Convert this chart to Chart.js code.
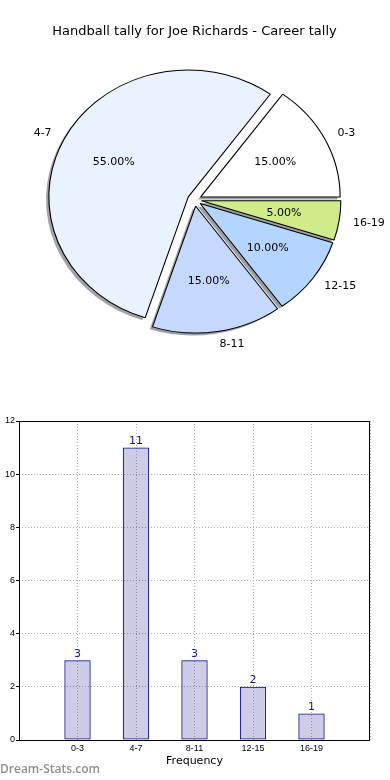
<!DOCTYPE html>
<html>
<head>
<meta charset="utf-8">
<script src="https://cdn.jsdelivr.net/npm/chart.js@4.4.0/dist/chart.umd.min.js"></script>
<style>
    body { margin: 0; width: 390px; height: 780px; overflow: hidden; position: relative; background: #fff; font-family: 'DejaVu Sans', sans-serif; }
    #pieBox { position: absolute; left: 0; top: 0; width: 390px; height: 370px; }
    #barBox { position: absolute; left: -11px; top: 380px; width: 401px; height: 400px; }
    .watermark { position: absolute; left: 0; top: 762px; font-family: 'Open Sans', sans-serif; font-weight: 600; font-size: 12px; line-height: 14px; color: #8f8f8f; }
</style>
</head>
<body>
<div id="pieBox"><canvas id="pieChart"></canvas></div>
<div id="barBox"><canvas id="barChart"></canvas></div>
<div class="watermark">Dream-Stats.com</div>
<script>
const categories = ["0-3", "4-7", "8-11", "12-15", "16-19"];
const counts = [3, 11, 3, 2, 1];
const yTicks = [0, 2, 4, 6, 8, 10, 12];

const sliceColors = ["#ffffff", "#eaf1ff", "#c5d9ff", "#b3d5ff", "#d0eb8a"];

Chart.defaults.font.family = "'DejaVu Sans', sans-serif";
Chart.defaults.color = "#000";

// matplotlib draws counter clockwise from 3 o'clock, chart.js goes clockwise
const pieLabels = categories.slice().reverse();
const pieValues = counts.slice().reverse();
const pieColors = sliceColors.slice().reverse();
const total = counts.reduce((a, b) => a + b, 0);

const ratioX = 1.098;   // axes not square -> pie is an ellipse
const explode = 6.35;   // px along the middle angle

function wedgeCenter(el) {
    const mid = (el.startAngle + el.endAngle) / 2;
    return { mid: mid, x: el.x + Math.cos(mid) * explode * ratioX, y: el.y + Math.sin(mid) * explode };
}

function shadowOf(hex) {
    const n = parseInt(hex.slice(1), 16);
    const r = (n >> 16) & 255, g = (n >> 8) & 255, b = n & 255;
    return `rgba(${Math.round(r * 0.3)}, ${Math.round(g * 0.3)}, ${Math.round(b * 0.3)}, 0.5)`;
}

const ellipsePie = {
    id: "ellipsePie",
    beforeDatasetsDraw(chart) {
        const ctx = chart.ctx;
        const arcs = chart.getDatasetMeta(0).data;
        // all shadows first so they stay under every slice
        arcs.forEach(el => {
            const c = wedgeCenter(el);
            ctx.save();
            ctx.translate(c.x - 2.8, c.y + 2.5);
            ctx.scale(ratioX, 1);
            ctx.beginPath();
            ctx.moveTo(0, 0);
            ctx.arc(0, 0, el.outerRadius, el.startAngle, el.endAngle);
            ctx.closePath();
            ctx.fillStyle = shadowOf(el.options.backgroundColor);
            ctx.fill();
            ctx.restore();
        });
        arcs.forEach(el => {
            const c = wedgeCenter(el);
            ctx.save();
            ctx.translate(c.x, c.y);
            ctx.scale(ratioX, 1);
            ctx.translate(-el.x, -el.y);
            el.draw(ctx);
            ctx.restore();
        });
        return false;
    },
    afterDraw(chart) {
        const ctx = chart.ctx;
        const arcs = chart.getDatasetMeta(0).data;
        ctx.save();
        ctx.font = "11px 'DejaVu Sans'";
        ctx.fillStyle = "#000";
        ctx.textBaseline = "middle";
        arcs.forEach((el, i) => {
            const c = wedgeCenter(el);
            const r = el.outerRadius;
            const cos = Math.cos(c.mid), sin = Math.sin(c.mid);
            ctx.textAlign = cos > 0 ? "left" : "right";
            ctx.fillText(pieLabels[i], c.x + cos * r * 1.1 * ratioX, c.y + sin * r * 1.1);
            ctx.textAlign = "center";
            const pct = (pieValues[i] / total * 100).toFixed(2) + "%";
            ctx.fillText(pct, c.x + cos * r * 0.6 * ratioX, c.y + sin * r * 0.6);
        });
        ctx.restore();
    }
};

new Chart(document.getElementById("pieChart"), {
    type: "pie",
    data: {
        labels: pieLabels,
        datasets: [{
            data: pieValues,
            backgroundColor: pieColors,
            borderColor: "#000",
            borderWidth: 1
        }]
    },
    options: {
        responsive: true,
        maintainAspectRatio: false,
        animation: false,
        rotation: 90,
        radius: 127,
        layout: { padding: { left: 0, right: 1, top: 0, bottom: 20 } },
        plugins: {
            legend: { display: false },
            tooltip: { enabled: false },
            title: {
                display: true,
                text: "Handball tally for Joe Richards - Career tally",
                font: { size: 13, weight: "normal" },
                color: "#000",
                padding: { top: 24, bottom: 10 }
            }
        }
    },
    plugins: [ellipsePie]
});

const boxBorder = {
    id: "boxBorder",
    afterDraw(chart) {
        const { ctx, chartArea: a } = chart;
        ctx.save();
        ctx.strokeStyle = "#000";
        ctx.lineWidth = 1;
        ctx.strokeRect(Math.round(a.left) + 0.5, Math.round(a.top) + 0.5, Math.round(a.right - a.left) - 1, Math.round(a.bottom - a.top));
        ctx.restore();
    }
};

const barValues = {
    id: "barValues",
    afterDatasetsDraw(chart) {
        const ctx = chart.ctx;
        ctx.save();
        ctx.font = "11px 'DejaVu Sans'";
        ctx.fillStyle = "#16168c";
        ctx.textAlign = "center";
        ctx.textBaseline = "bottom";
        chart.getDatasetMeta(0).data.forEach((el, i) => {
            ctx.fillText(String(counts[i]), el.x, el.y - 1);
        });
        ctx.restore();
    }
};

const gridStyle = { color: "#b0b0b0", lineWidth: 1 };
const tickFont = { family: "'Liberation Sans Narrow', 'Liberation Sans'", size: 9 };

new Chart(document.getElementById("barChart"), {
    type: "bar",
    data: {
        datasets: [{
            data: counts.map((v, i) => ({ x: i, y: v })),
            backgroundColor: "rgba(0, 0, 128, 0.2)",
            borderColor: "#000080",
            borderWidth: 1,
            borderSkipped: false,
            barPercentage: 0.45,
            categoryPercentage: 1
        }]
    },
    options: {
        responsive: true,
        maintainAspectRatio: false,
        animation: false,
        layout: { padding: { left: 0, right: 20, top: 41, bottom: 10 } },
        plugins: { legend: { display: false }, tooltip: { enabled: false } },
        scales: {
            x: {
                type: "linear",
                min: -1,
                max: categories.length,
                offset: false,
                afterFit(scale) { scale.height = 30; },
                border: { display: false, dash: [1, 2] },
                grid: { ...gridStyle, offset: false, drawTicks: false },
                ticks: {
                    stepSize: 1,
                    padding: 3,
                    font: tickFont,
                    color: "#000",
                    autoSkip: false,
                    maxRotation: 0,
                    callback: v => categories[v] ?? ""
                },
                title: { display: true, text: "Frequency", font: { size: 11 }, color: "#000", padding: { top: 0, bottom: 2.4 } }
            },
            y: {
                min: yTicks[0],
                max: yTicks[yTicks.length - 1],
                afterFit(scale) { scale.width = 30; },
                afterBuildTicks(scale) { scale.ticks = yTicks.map(v => ({ value: v })); },
                border: { display: false, dash: [1, 2] },
                grid: { ...gridStyle, drawTicks: true, tickLength: 3, tickColor: "#000", tickBorderDash: [] },
                ticks: { padding: 1, font: tickFont, color: "#000" },
                title: { display: true, text: "No. of Games", font: { size: 11 }, color: "#000", padding: { top: 0, bottom: 0 } }
            }
        }
    },
    plugins: [boxBorder, barValues]
});
</script>
</body>
</html>
